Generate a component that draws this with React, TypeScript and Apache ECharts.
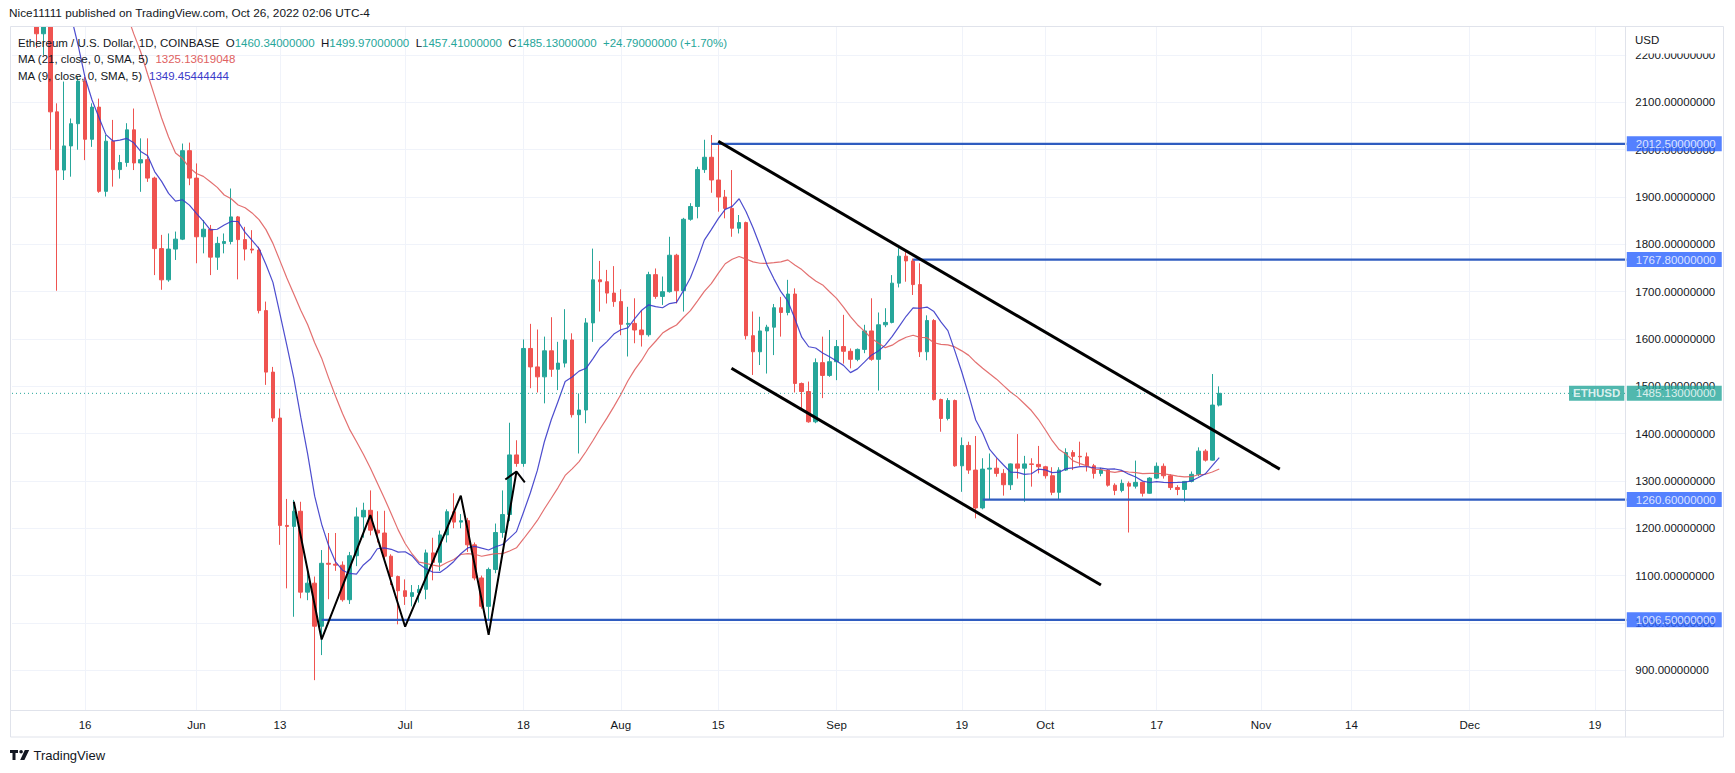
import React, { useEffect, useRef } from "react";
import * as echarts from "echarts";

// ---------- data ----------
const FIRST_DAY = "2022-05-06"; // first category of the time axis
const AXIS_DAYS = 232; // categories shown (May 6 .. Dec 23)

// [date, open, high, low, close]
const CANDLES: [string, number, number, number, number][] = [
  ["2022-05-06", 2749, 2760, 2630, 2694],
  ["2022-05-07", 2694, 2702, 2600, 2636],
  ["2022-05-08", 2636, 2650, 2500, 2518],
  ["2022-05-09", 2518, 2530, 2215, 2245],
  ["2022-05-10", 2245, 2450, 2200, 2343],
  ["2022-05-11", 2343, 2450, 2000, 2080],
  ["2022-05-12", 2080, 2098, 1702, 1957],
  ["2022-05-13", 1957, 2144, 1936, 2008],
  ["2022-05-14", 2008, 2066, 1943, 2055],
  ["2022-05-15", 2055, 2154, 2000, 2145],
  ["2022-05-16", 2145, 2154, 1978, 2022],
  ["2022-05-17", 2022, 2098, 2006, 2090],
  ["2022-05-18", 2090, 2108, 1909, 1912],
  ["2022-05-19", 1912, 2031, 1901, 2018],
  ["2022-05-20", 2018, 2063, 1922, 1958],
  ["2022-05-21", 1958, 1989, 1939, 1973],
  ["2022-05-22", 1973, 2056, 1964, 2042],
  ["2022-05-23", 2042, 2087, 1957, 1972],
  ["2022-05-24", 1972, 2024, 1911, 1979],
  ["2022-05-25", 1979, 2024, 1932, 1940],
  ["2022-05-26", 1940, 1943, 1735, 1791],
  ["2022-05-27", 1791, 1820, 1704, 1725],
  ["2022-05-28", 1725, 1823, 1721, 1790],
  ["2022-05-29", 1790, 1827, 1767, 1811],
  ["2022-05-30", 1811, 2013, 1809, 1998],
  ["2022-05-31", 1998, 2015, 1925, 1940],
  ["2022-06-01", 1940, 1971, 1760, 1816],
  ["2022-06-02", 1816, 1851, 1781, 1832],
  ["2022-06-03", 1832, 1841, 1735, 1773],
  ["2022-06-04", 1773, 1816, 1746, 1802],
  ["2022-06-05", 1802, 1823, 1781, 1806],
  ["2022-06-06", 1806, 1918, 1800, 1858],
  ["2022-06-07", 1858, 1860, 1726, 1810],
  ["2022-06-08", 1810, 1837, 1766, 1790],
  ["2022-06-09", 1790, 1830, 1781, 1788],
  ["2022-06-10", 1788, 1795, 1654, 1660],
  ["2022-06-11", 1660, 1679, 1503, 1530],
  ["2022-06-12", 1530, 1541, 1425, 1433],
  ["2022-06-13", 1433, 1453, 1165, 1206],
  ["2022-06-14", 1206, 1262, 1073, 1204],
  ["2022-06-15", 1204, 1260, 1013, 1236],
  ["2022-06-16", 1236, 1256, 1052, 1065],
  ["2022-06-17", 1065, 1112, 1048, 1084],
  ["2022-06-18", 1084, 1098, 879, 993],
  ["2022-06-19", 993, 1154, 932, 1126],
  ["2022-06-20", 1126, 1190, 1050, 1124],
  ["2022-06-21", 1124, 1190, 1110, 1122],
  ["2022-06-22", 1122, 1130, 1045, 1049],
  ["2022-06-23", 1049, 1150, 1040, 1142],
  ["2022-06-24", 1142, 1244, 1120, 1224],
  ["2022-06-25", 1224, 1254, 1180, 1238],
  ["2022-06-26", 1238, 1280, 1185, 1196],
  ["2022-06-27", 1196, 1236, 1170, 1190],
  ["2022-06-28", 1190, 1237, 1135, 1141],
  ["2022-06-29", 1141, 1145, 1080, 1098],
  ["2022-06-30", 1098, 1100, 997, 1068],
  ["2022-07-01", 1068, 1092, 1038, 1056],
  ["2022-07-02", 1056, 1080, 1035, 1064],
  ["2022-07-03", 1064, 1080, 1043, 1071],
  ["2022-07-04", 1071, 1155, 1050, 1148],
  ["2022-07-05", 1148, 1180, 1090, 1128],
  ["2022-07-06", 1128, 1195, 1110, 1186],
  ["2022-07-07", 1186, 1240, 1170, 1235],
  ["2022-07-08", 1235, 1274, 1200, 1213],
  ["2022-07-09", 1213, 1230, 1200, 1216],
  ["2022-07-10", 1216, 1222, 1150, 1165],
  ["2022-07-11", 1165, 1170, 1090, 1095],
  ["2022-07-12", 1095, 1100, 1030, 1035],
  ["2022-07-13", 1035, 1117, 1006, 1113],
  ["2022-07-14", 1113, 1210, 1105, 1191],
  ["2022-07-15", 1191, 1280, 1180, 1229],
  ["2022-07-16", 1229, 1423, 1215, 1355],
  ["2022-07-17", 1355, 1386, 1330, 1337],
  ["2022-07-18", 1337, 1599, 1330, 1580],
  ["2022-07-19", 1580, 1632, 1496, 1541],
  ["2022-07-20", 1541, 1620, 1487, 1520],
  ["2022-07-21", 1520, 1605, 1464, 1575],
  ["2022-07-22", 1575, 1646, 1520, 1536],
  ["2022-07-23", 1536, 1594, 1492, 1549],
  ["2022-07-24", 1549, 1663, 1540, 1598],
  ["2022-07-25", 1598, 1612, 1434, 1440],
  ["2022-07-26", 1440, 1485, 1358, 1450],
  ["2022-07-27", 1450, 1644, 1422, 1634],
  ["2022-07-28", 1634, 1791, 1594, 1725],
  ["2022-07-29", 1725, 1765, 1658, 1721],
  ["2022-07-30", 1721, 1746, 1675, 1697],
  ["2022-07-31", 1697, 1754, 1668, 1679],
  ["2022-08-01", 1679, 1705, 1608, 1631],
  ["2022-08-02", 1631, 1668, 1563, 1633],
  ["2022-08-03", 1633, 1686, 1591, 1619],
  ["2022-08-04", 1619, 1661, 1584, 1609],
  ["2022-08-05", 1609, 1742, 1605, 1736],
  ["2022-08-06", 1736, 1749, 1685, 1690],
  ["2022-08-07", 1690, 1732, 1672, 1700],
  ["2022-08-08", 1700, 1816, 1698, 1777],
  ["2022-08-09", 1777, 1780, 1675, 1702],
  ["2022-08-10", 1702, 1856, 1658, 1853],
  ["2022-08-11", 1853, 1887, 1850, 1880],
  ["2022-08-12", 1880, 1964, 1855, 1958],
  ["2022-08-13", 1958, 2021, 1951, 1984],
  ["2022-08-14", 1984, 2031, 1909, 1936],
  ["2022-08-15", 1936, 2015, 1869, 1900],
  ["2022-08-16", 1900, 1915, 1855, 1876],
  ["2022-08-17", 1876, 1957, 1816, 1834],
  ["2022-08-18", 1834, 1862, 1823, 1846],
  ["2022-08-19", 1846, 1848, 1599, 1607],
  ["2022-08-20", 1607, 1658, 1524, 1573],
  ["2022-08-21", 1573, 1647, 1545, 1617],
  ["2022-08-22", 1617, 1630, 1527, 1625],
  ["2022-08-23", 1625, 1674, 1566, 1666],
  ["2022-08-24", 1666, 1689, 1605, 1656],
  ["2022-08-25", 1656, 1725, 1650, 1695],
  ["2022-08-26", 1695, 1707, 1487, 1506],
  ["2022-08-27", 1506, 1508, 1450, 1489],
  ["2022-08-28", 1489, 1510, 1423, 1425],
  ["2022-08-29", 1425, 1559, 1422, 1550],
  ["2022-08-30", 1550, 1605, 1475, 1523],
  ["2022-08-31", 1523, 1619, 1520, 1552],
  ["2022-09-01", 1552, 1598, 1513, 1584],
  ["2022-09-02", 1584, 1651, 1548, 1574],
  ["2022-09-03", 1574, 1580, 1538, 1557],
  ["2022-09-04", 1557, 1580, 1553, 1578],
  ["2022-09-05", 1578, 1630, 1570, 1617],
  ["2022-09-06", 1617, 1686, 1554, 1557],
  ["2022-09-07", 1557, 1656, 1491, 1630],
  ["2022-09-08", 1630, 1665, 1625, 1635],
  ["2022-09-09", 1635, 1735, 1633, 1718],
  ["2022-09-10", 1718, 1792, 1709, 1775],
  ["2022-09-11", 1775, 1789, 1721, 1765],
  ["2022-09-12", 1765, 1770, 1693, 1715],
  ["2022-09-13", 1715, 1760, 1562, 1573],
  ["2022-09-14", 1573, 1650, 1555, 1639],
  ["2022-09-15", 1639, 1642, 1470, 1472],
  ["2022-09-16", 1472, 1474, 1404, 1432],
  ["2022-09-17", 1432, 1475, 1428, 1470],
  ["2022-09-18", 1470, 1472, 1330, 1332],
  ["2022-09-19", 1332, 1392, 1277, 1375],
  ["2022-09-20", 1375, 1383, 1315, 1323],
  ["2022-09-21", 1323, 1395, 1221, 1243],
  ["2022-09-22", 1243, 1348, 1240, 1325],
  ["2022-09-23", 1325, 1358, 1260, 1327],
  ["2022-09-24", 1327, 1348, 1309, 1316],
  ["2022-09-25", 1316, 1325, 1269, 1292],
  ["2022-09-26", 1292, 1337, 1281, 1336],
  ["2022-09-27", 1336, 1399, 1305, 1327],
  ["2022-09-28", 1327, 1353, 1256, 1336],
  ["2022-09-29", 1336, 1348, 1288, 1335],
  ["2022-09-30", 1335, 1374, 1316, 1330],
  ["2022-10-01", 1330, 1332, 1305, 1311],
  ["2022-10-02", 1311, 1329, 1270, 1276],
  ["2022-10-03", 1276, 1329, 1260, 1323],
  ["2022-10-04", 1323, 1369, 1321, 1360],
  ["2022-10-05", 1360, 1365, 1323, 1352],
  ["2022-10-06", 1352, 1383, 1332, 1351],
  ["2022-10-07", 1351, 1360, 1320, 1332],
  ["2022-10-08", 1332, 1336, 1305, 1316],
  ["2022-10-09", 1316, 1328, 1310, 1323],
  ["2022-10-10", 1323, 1325, 1288, 1291],
  ["2022-10-11", 1291, 1295, 1270, 1280],
  ["2022-10-12", 1280, 1303, 1276, 1295],
  ["2022-10-13", 1295, 1299, 1191, 1289],
  ["2022-10-14", 1289, 1343, 1284, 1297],
  ["2022-10-15", 1297, 1298, 1267, 1274],
  ["2022-10-16", 1274, 1308, 1273, 1306],
  ["2022-10-17", 1306, 1339, 1304, 1331],
  ["2022-10-18", 1331, 1337, 1305, 1311],
  ["2022-10-19", 1311, 1314, 1281, 1286],
  ["2022-10-20", 1286, 1291, 1270, 1282],
  ["2022-10-21", 1282, 1300, 1256, 1299],
  ["2022-10-22", 1299, 1320, 1297, 1314],
  ["2022-10-23", 1314, 1371, 1310, 1363],
  ["2022-10-24", 1363, 1367, 1341, 1344],
  ["2022-10-25", 1344, 1526, 1343, 1460.34],
  ["2022-10-26", 1460.34, 1499.97, 1457.41, 1485.13],
];

// closes before the first visible bar (Apr 16 .. May 5), estimated so the
// moving averages enter the picture where they do
const PRIOR_CLOSES = [
  3060, 2990, 3057, 3104, 3077, 2985, 2964, 2936, 2923, 3008,
  2807, 2889, 2936, 2817, 2730, 2827, 2857, 2783, 2940, 2749,
];

// x-axis tick labels [date, text]
const X_TICKS: [string, string][] = [
  ["2022-05-16", "16"], ["2022-06-01", "Jun"], ["2022-06-13", "13"],
  ["2022-07-01", "Jul"], ["2022-07-18", "18"], ["2022-08-01", "Aug"],
  ["2022-08-15", "15"], ["2022-09-01", "Sep"], ["2022-09-19", "19"],
  ["2022-10-01", "Oct"], ["2022-10-17", "17"], ["2022-11-01", "Nov"],
  ["2022-11-14", "14"], ["2022-12-01", "Dec"], ["2022-12-19", "19"],
];

// horizontal rays: level and the bar index where each starts
const LEVELS = [2012.5, 1767.8, 1260.6, 1006.5];
const LEVEL_STARTS = [100, 129, 139, 44];

// drawings in [bar index, price]
const CHANNEL_UPPER = [[101, 2018], [181.7, 1325]];
const CHANNEL_LOWER = [[102.9, 1538], [156, 1080]];
const W_PATTERN = [[40, 1256], [44, 965], [51, 1228], [56, 992], [64, 1269], [68, 975], [72, 1320]];
const W_CARET = [[70.4, 1303], [72, 1320], [73.2, 1297]];

const LAST_PRICE = 1485.13;
const Y_MIN = 800;
const Y_MAX = 2300;
const Y_STEP = 100;
const PANE_BOTTOM_VALUE = 816;

// ---------- styling ----------
const FONT = "'Liberation Sans', Arial, Helvetica, sans-serif";
const UP = "#26a69a";
const DOWN = "#ef5350";
const TEXT = "#131722";
const GRID = "#f0f3fa";
const FRAME = "#e0e3eb";
const LEVEL_LINE = "#2f5cc0";
const LEVEL_TAG = "#2962ff";
const MA21_COLOR = "#e06161";
const MA9_COLOR = "#3a3ac9";

const LOGO_PATH =
  "M0 0H8V3H5.5V10H2.5V3H0Z M9.3 1.8A1.8 1.8 0 1 0 12.9 1.8A1.8 1.8 0 1 0 9.3 1.8Z M14.8 0H19.2L14.4 10H10.2Z";

function addDays(iso: string, n: number): string {
  const [y, m, d] = iso.split("-").map(Number);
  const t = new Date(Date.UTC(y, m - 1, d + n));
  return t.toISOString().slice(0, 10);
}

function buildOption() {
  const categories: string[] = [];
  for (let i = 0; i < AXIS_DAYS; i++) categories.push(addDays(FIRST_DAY, i));
  const tickMap = new Map(X_TICKS);
  const lastIdx = AXIS_DAYS - 0.5;

  const closes = CANDLES.map((r) => r[4]);
  const all = PRIOR_CLOSES.concat(closes);
  const sma = (n: number) =>
    closes.map((_, i) => {
      const end = i + PRIOR_CLOSES.length;
      const start = end - n + 1;
      if (start < 0) return "-";
      let s = 0;
      for (let k = start; k <= end; k++) s += all[k];
      return +(s / n).toFixed(3);
    });

  const lineSeries = (data: number[][], color: string, width: number, extra: any = {}) => ({
    type: "line",
    xAxisIndex: 1,
    yAxisIndex: 0,
    data,
    symbol: "none",
    silent: true,
    z: 6,
    lineStyle: { color, width, ...extra },
  });

  const tagLabel = (text: string, bg: string, position: string, distance: number, bold = false) => ({
    show: true,
    position,
    distance,
    formatter: text,
    backgroundColor: bg,
    color: "#ffffff",
    fontSize: 11.5,
    fontFamily: FONT,
    fontWeight: bold ? "bold" : "normal",
    lineHeight: 13,
    padding: position === "right" ? [1, 6, 1, 9] : [1, 4, 1, 4],
  });

  const tagData: any[] = LEVELS.map((v) => ({
    value: [lastIdx, v],
    label: tagLabel(v.toFixed(8), LEVEL_TAG, "right", 0),
  }));
  tagData.push({ value: [lastIdx, LAST_PRICE], label: tagLabel(LAST_PRICE.toFixed(8), UP, "right", 0) });
  tagData.push({ value: [lastIdx, LAST_PRICE], label: tagLabel("ETHUSD", UP, "left", 1.5, true) });

  const rich = (fill: string) => ({ fill, fontSize: 11.5, fontFamily: FONT });

  const series: any[] = [
    {
      type: "candlestick",
      name: "ETHUSD",
      xAxisIndex: 0,
      yAxisIndex: 0,
      data: CANDLES.map((r) => [r[1], r[4], r[3], r[2]]),
      barWidth: "58%",
      z: 3,
      itemStyle: {
        color: UP,
        color0: DOWN,
        borderColor: UP,
        borderColor0: DOWN,
        borderWidth: 1,
      },
      markLine: {
        silent: true,
        z: 1,
        symbol: ["none", "none"],
        label: { show: false },
        lineStyle: { color: GRID, width: 1, type: "solid" },
        data: X_TICKS.map(([d]) => [{ coord: [d, PANE_BOTTOM_VALUE] }, { coord: [d, Y_MAX] }]),
      },
    },
    {
      type: "line",
      name: "MA 21",
      xAxisIndex: 0,
      yAxisIndex: 0,
      data: sma(21),
      symbol: "none",
      silent: true,
      z: 4,
      lineStyle: { color: MA21_COLOR, width: 1.2, opacity: 0.9 },
    },
    {
      type: "line",
      name: "MA 9",
      xAxisIndex: 0,
      yAxisIndex: 0,
      data: sma(9),
      symbol: "none",
      silent: true,
      z: 4,
      lineStyle: { color: MA9_COLOR, width: 1.2, opacity: 0.9 },
    },
    lineSeries([[-0.5, LAST_PRICE], [lastIdx, LAST_PRICE]], UP, 1, { type: [1, 3] }),
    ...LEVELS.map((v, i) => lineSeries([[LEVEL_STARTS[i], v], [lastIdx, v]], LEVEL_LINE, 2.2)),
    lineSeries(CHANNEL_UPPER, "#000000", 3),
    lineSeries(CHANNEL_LOWER, "#000000", 3),
    lineSeries(W_PATTERN, "#000000", 2),
    lineSeries(W_CARET, "#000000", 2),
    {
      type: "scatter",
      xAxisIndex: 1,
      yAxisIndex: 0,
      data: tagData,
      symbolSize: 1,
      clip: false,
      silent: true,
      z: 20,
      itemStyle: { color: "rgba(0,0,0,0)" },
    },
  ];

  const graphic: any[] = [
    // header band above the pane
    { type: "rect", z: 100, silent: true, shape: { x: 0, y: 0, width: 1735, height: 26 }, style: { fill: "#ffffff" } },
    // clip of the price scale top (under "USD")
    { type: "rect", z: 100, silent: true, shape: { x: 1626, y: 26.5, width: 97, height: 27 }, style: { fill: "#ffffff" } },
    // frames
    { type: "rect", z: 101, silent: true, shape: { x: 10.5, y: 26.5, width: 1713, height: 710.5 }, style: { fill: "none", stroke: FRAME, lineWidth: 1 } },
    { type: "line", z: 101, silent: true, shape: { x1: 1625.5, y1: 26.5, x2: 1625.5, y2: 737 }, style: { stroke: FRAME, lineWidth: 1 } },
    { type: "line", z: 101, silent: true, shape: { x1: 10.5, y1: 710.5, x2: 1723.5, y2: 710.5 }, style: { stroke: FRAME, lineWidth: 1 } },
    {
      type: "text", z: 102, silent: true, x: 9, y: 13,
      style: { text: "Nice11111 published on TradingView.com, Oct 26, 2022 02:06 UTC-4", fill: TEXT, fontSize: 11.8, fontFamily: FONT, verticalAlign: "middle", align: "left" },
    },
    {
      type: "text", z: 102, silent: true, x: 1635, y: 40,
      style: { text: "USD", fill: TEXT, fontSize: 11.5, fontFamily: FONT, verticalAlign: "middle", align: "left" },
    },
    {
      type: "text", z: 102, silent: true, x: 18, y: 42.5,
      style: {
        text:
          "{n|Ethereum / U.S. Dollar, 1D, COINBASE}  {k|O}{v|1460.34000000}  {k|H}{v|1499.97000000}  {k|L}{v|1457.41000000}  {k|C}{v|1485.13000000}  {v|+24.79000000 (+1.70%)}",
        fontSize: 11.5, fontFamily: FONT, fill: TEXT, verticalAlign: "middle", align: "left",
        rich: { n: rich(TEXT), k: rich(TEXT), v: rich(UP) },
      },
    },
    {
      type: "text", z: 102, silent: true, x: 18, y: 59,
      style: {
        text: "{n|MA (21, close, 0, SMA, 5)}  {v|1325.13619048}",
        fontSize: 11.5, fontFamily: FONT, fill: TEXT, verticalAlign: "middle", align: "left",
        rich: { n: rich(TEXT), v: rich(MA21_COLOR) },
      },
    },
    {
      type: "text", z: 102, silent: true, x: 18, y: 75.7,
      style: {
        text: "{n|MA (9, close, 0, SMA, 5)}  {v|1349.45444444}",
        fontSize: 11.5, fontFamily: FONT, fill: TEXT, verticalAlign: "middle", align: "left",
        rich: { n: rich(TEXT), v: rich(MA9_COLOR) },
      },
    },
    { type: "tvlogo", z: 102, silent: true, x: 10, y: 750, scaleX: 1, scaleY: 1, style: { fill: TEXT } },
    {
      type: "text", z: 102, silent: true, x: 33.5, y: 755,
      style: { text: "TradingView", fill: TEXT, fontSize: 13, fontFamily: FONT, verticalAlign: "middle", align: "left" },
    },
  ];

  return {
    animation: false,
    backgroundColor: "#ffffff",
    grid: { left: 12, right: 108.7, top: 7.75, bottom: 55.45, containLabel: false },
    xAxis: [
      {
        type: "category",
        data: categories,
        boundaryGap: true,
        axisLine: { show: false },
        axisTick: { show: false },
        splitLine: { show: false },
        axisLabel: {
          interval: (_i: number, v: string) => tickMap.has(v),
          formatter: (v: string) => tickMap.get(v) ?? "",
          color: TEXT,
          fontSize: 11.5,
          fontFamily: FONT,
          margin: 1,
        },
      },
      {
        type: "value",
        min: -0.5,
        max: lastIdx,
        show: false,
        splitLine: { show: false },
      },
    ],
    yAxis: {
      type: "value",
      position: "right",
      min: Y_MIN,
      max: Y_MAX,
      interval: Y_STEP,
      axisLine: { show: false },
      axisTick: { show: false },
      axisLabel: {
        formatter: (v: number) => (v === Y_MIN || v === Y_MAX ? "" : v.toFixed(8)),
        color: TEXT,
        fontSize: 11.5,
        fontFamily: FONT,
        margin: 9,
      },
      splitLine: { show: true, showMinLine: false, showMaxLine: false, lineStyle: { color: GRID, width: 1 } },
    },
    series,
    graphic,
  };
}

export default function App() {
  const ref = useRef<HTMLDivElement>(null);
  useEffect(() => {
    const el = ref.current;
    if (!el) return;
    try {
      echarts.graphic.registerShape("tvlogo", echarts.graphic.extendPath(LOGO_PATH, {}) as any);
    } catch (e) {
      /* already registered */
    }
    const chart = echarts.init(el, undefined, { renderer: "svg" });
    chart.setOption(buildOption() as any);
    return () => chart.dispose();
  }, []);
  return (
    <div
      ref={ref}
      style={{ position: "fixed", left: 0, top: 0, width: 1735, height: 773, background: "#ffffff" }}
    />
  );
}
